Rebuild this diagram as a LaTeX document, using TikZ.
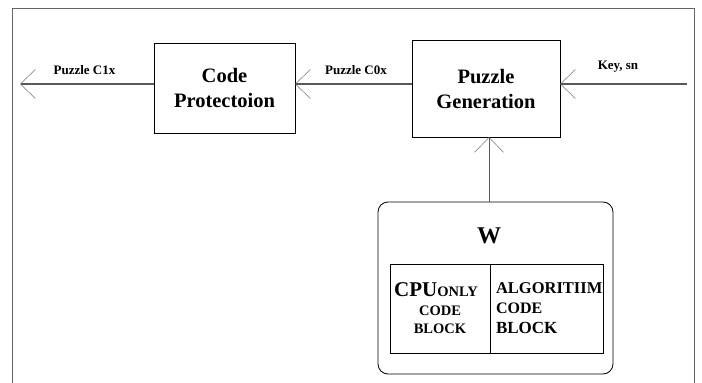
\documentclass[tikz,border=0pt]{standalone}
\usepackage{fontspec}
\setmainfont{Liberation Serif}
\usetikzlibrary{arrows.meta,positioning}

\begin{document}
\begin{tikzpicture}[x=1pt, y=-1pt,
		basic/.style  = {draw, rectangle, line width=0.8pt, outer sep=0pt},
		block/.style  = {basic, align=center, font=\fontsize{20.5}{25}\selectfont\bfseries},
		cell/.style   = {basic, minimum height=89pt},
		tag/.style    = {font=\fontsize{13}{15}\selectfont\bfseries},
		wire/.style   = {draw=black!65, line width=1.4pt, -{Straight Barb[length=15pt,width=29pt,line width=0.5pt,color=black!55]}},
		>=latex]
		
		\useasboundingbox (0,0) rectangle (702,383);
		
		% Outer frame
		\draw[black!60, line width=1pt] (12,383) -- (12,8) -- (694,8) -- (694,383);
		
		% Main chain of blocks
		\node[block, minimum width=141pt, minimum height=90pt] (prot) at (224.5,88) {Code\\Protectoion};
		\node[block, minimum width=148pt, minimum height=97pt] (gen) at (486,88.5) {Puzzle\\Generation};
		
		% The W block with its two cells
		\node[basic, rounded corners=10pt, minimum width=235pt, minimum height=172pt] (wbox) at (495.5,288) {};
		\node[font=\fontsize{24}{24}\selectfont\bfseries] (wlab) at (489,236) {W};
		\node[cell, minimum width=100pt, align=center, font=\fontsize{14.5}{18.5}\selectfont\bfseries] (cpu) at (440,308.5)
			{\hspace*{-8pt}{\fontsize{21}{18.5}\selectfont CPU}ONLY\\ CODE\\ BLOCK};
		\node[cell, minimum width=113pt, text width=101pt, inner xsep=6pt, align=left, right=0pt of cpu,
			font=\fontsize{16.5}{20}\selectfont\bfseries] (alg)
			{ALGORITIIM\\ {\fontsize{16}{20}\selectfont CODE}\\ {\fontsize{17}{20}\selectfont BLOCK}};
		
		% Labels over the lines
		\node[tag] (c1x) at (84.5,70) {Puzzle C1x};
		\node[tag] (c0x) at (356,70) {Puzzle C0x};
		\node[tag] (key) at (618,67) {Key, sn};
		
		% Loose ends of the chain
		\coordinate (out) at (20,84);
		\coordinate (in) at (687,84);
		
		% Connectors
		\draw[wire] (prot.west |- out) -- (out);
		\draw[wire] (gen.west |- out) -- (prot.east |- out);
		\draw[wire] (in) -- (gen.east |- in);
		\draw[wire, line width=1pt] ([xshift=-6.5pt]wbox.north) -- ([xshift=-6.5pt]wbox.north |- gen.south);
		
\end{tikzpicture}
\end{document}
